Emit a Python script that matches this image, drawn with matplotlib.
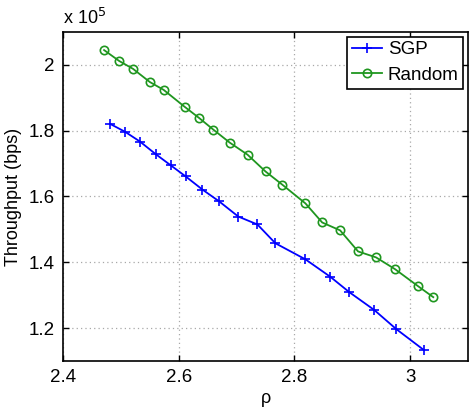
import numpy as np
import matplotlib
matplotlib.use("Agg")
import matplotlib.pyplot as plt

# throughput in units of 1e5 bps
rho_sgp = [2.481, 2.507, 2.533, 2.560, 2.586, 2.612, 2.641, 2.670, 2.703,
           2.736, 2.767, 2.819, 2.862, 2.895, 2.938, 2.976, 3.024]
thr_sgp = [1.821, 1.797, 1.767, 1.729, 1.695, 1.661, 1.621, 1.585, 1.539,
           1.515, 1.458, 1.409, 1.356, 1.309, 1.255, 1.197, 1.133]

rho_rand = [2.471, 2.497, 2.521, 2.550, 2.574, 2.610, 2.635, 2.660, 2.688, 2.719,
            2.750, 2.779, 2.819, 2.848, 2.879, 2.910, 2.941, 2.974, 3.014, 3.040]
thr_rand = [2.045, 2.012, 1.988, 1.948, 1.924, 1.873, 1.839, 1.803, 1.764, 1.727,
            1.676, 1.636, 1.579, 1.521, 1.497, 1.433, 1.415, 1.379, 1.327, 1.294]

xticks = [2.4, 2.6, 2.8, 3.0]
xticklabels = ["2.4", "2.6", "2.8", "3"]
yticks = [1.2, 1.4, 1.6, 1.8, 2.0]
yticklabels = ["1.2", "1.4", "1.6", "1.8", "2"]

plt.rcParams["font.family"] = ["Liberation Sans", "DejaVu Sans"]
plt.rcParams["font.size"] = 13

fig = plt.figure(figsize=(4.72, 4.08), dpi=100)
ax = fig.add_axes([0.1335, 0.1152, 0.858, 0.8064])

green = "#1f961f"
ax.plot(rho_sgp, thr_sgp, color="blue", marker="+", markersize=7,
        markeredgewidth=1.2, linewidth=1.3, label="SGP")
ax.plot(rho_rand, thr_rand, color=green, marker="o", markersize=6,
        markerfacecolor="none", markeredgewidth=1.2, linewidth=1.3, label="Random")

ax.set_xlim(2.4, 3.1)
ax.set_ylim(1.1, 2.1)
ax.set_xticks(xticks)
ax.set_xticklabels(xticklabels)
ax.set_yticks(yticks)
ax.set_yticklabels(yticklabels)
ax.tick_params(direction="in", length=4, width=1, top=True, right=True,
               labelsize=13.5, pad=6)
ax.grid(True, linestyle=(0, (1, 2.5)), color="#a8a8a8", linewidth=0.9)
for s in ax.spines.values():
    s.set_linewidth(1.2)

ax.set_xlabel("ρ", fontsize=13, labelpad=3)
ax.set_ylabel("Throughput (bps)", fontsize=13, labelpad=5)
ax.text(0.0, 1.012, r"x 10$^5$", transform=ax.transAxes, fontsize=13,
        ha="left", va="bottom")

leg = ax.legend(loc="upper right", fontsize=13.5, fancybox=False, framealpha=1,
                edgecolor="black", borderpad=0.25, labelspacing=0.45,
                handlelength=1.6, handletextpad=0.3, borderaxespad=0.25)
leg.get_frame().set_linewidth(1.2)

fig.savefig("out.png", dpi=100)
